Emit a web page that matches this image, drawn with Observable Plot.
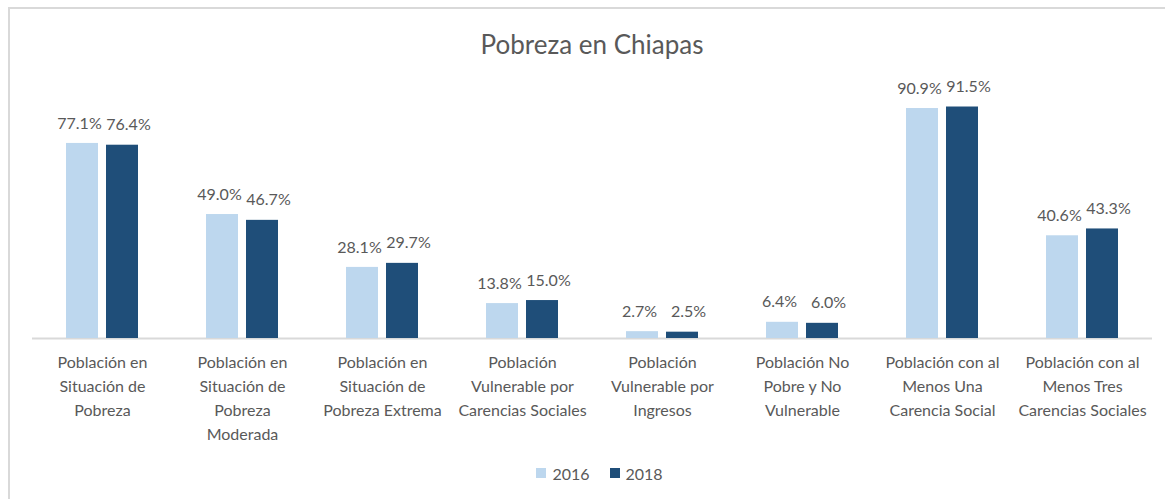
<!DOCTYPE html>
<html>
<head>
<meta charset="utf-8">
<script src="https://cdn.jsdelivr.net/npm/d3@7"></script>
<script src="https://cdn.jsdelivr.net/npm/@observablehq/plot@0.6"></script>
<style>
  html, body { margin: 0; padding: 0; background: #fff; }
  body { width: 1165px; height: 499px; position: relative; overflow: hidden; font-family: Lato, "Open Sans", sans-serif; color: #595959; }
  #frame { position: absolute; left: 8px; top: 7px; width: 1200px; height: 540px; border-left: 2px solid #d9d9d9; border-top: 2px solid #d9d9d9; }
  #title { position: absolute; left: 0; width: 1184px; top: 28px; text-align: center; font-size: 26px; color: #595959; }
  #chart { position: absolute; left: 0; top: 80px; }
  #legend { position: absolute; left: 0; width: 1199px; top: 462px; text-align: center; font-size: 16px; color: #595959; }
  #legend span.item { display: inline-flex; align-items: center; margin: 0 10px; }
  #legend span.sw { display: inline-block; width: 10px; height: 10px; margin-right: 6px; }
</style>
</head>
<body>
<div id="frame"></div>
<div id="title">Pobreza en Chiapas</div>
<div id="chart"></div>
<div id="legend"></div>
<script>
const categories = [
  "Población en Situación de Pobreza",
  "Población en Situación de Pobreza Moderada",
  "Población en Situación de Pobreza Extrema",
  "Población Vulnerable por Carencias Sociales",
  "Población Vulnerable por Ingresos",
  "Población No Pobre y No Vulnerable",
  "Población con al Menos Una Carencia Social",
  "Población con al Menos Tres Carencias Sociales"
];
const tickLabels = [
  "Población en\nSituación de\nPobreza",
  "Población en\nSituación de\nPobreza\nModerada",
  "Población en\nSituación de\nPobreza Extrema",
  "Población\nVulnerable por\nCarencias Sociales",
  "Población\nVulnerable por\nIngresos",
  "Población No\nPobre y No\nVulnerable",
  "Población con al\nMenos Una\nCarencia Social",
  "Población con al\nMenos Tres\nCarencias Sociales"
];
const years = ["2016", "2018"];
const values2016 = [77.1, 49.0, 28.1, 13.8, 2.7, 6.4, 90.9, 40.6];
const values2018 = [76.4, 46.7, 29.7, 15.0, 2.5, 6.0, 91.5, 43.3];
const colors = ["#BDD7EE", "#1F4E79"];

const data = [];
categories.forEach((c, i) => {
  data.push({category: c, year: years[0], value: values2016[i]});
  data.push({category: c, year: years[1], value: values2018[i]});
});
const labelData = categories.map((c, i) => ({category: c, label: tickLabels[i]}));
const fmt = d => d.value.toFixed(1) + "%";

const chart = Plot.plot({
  width: 1165,
  height: 380,
  marginLeft: 32,
  marginRight: 13,
  marginTop: 5,
  marginBottom: 122,
  style: {fontFamily: "Lato, 'Open Sans', sans-serif", fontSize: "16px", color: "#595959", background: "transparent", overflow: "visible"},
  fx: {domain: categories, paddingInner: 0.486, paddingOuter: 0.243, axis: null, label: null},
  x: {domain: years, paddingInner: 0.2, paddingOuter: 0, axis: null, label: null},
  y: {domain: [0, 100], axis: null, label: null},
  color: {domain: years, range: colors},
  marks: [
    Plot.ruleY([0], {stroke: "#d9d9d9", strokeWidth: 2, insetLeft: -34, insetRight: -34}),
    Plot.barY(data, {fx: "category", x: "year", y: "value", fill: "year", inset: 0}),
    Plot.text(data.filter(d => d.year === years[0]), {fx: "category", x: "year", y: "value", text: fmt, dy: -20, dx: -3, fill: "#595959", fontSize: 16}),
    Plot.text(data.filter(d => d.year === years[1]), {fx: "category", x: "year", y: "value", text: fmt, dy: -20, dx: 6, fill: "#595959", fontSize: 16}),
    Plot.text(labelData, {fx: "category", text: "label", frameAnchor: "bottom", lineAnchor: "top", dy: 12, lineHeight: 1.5, fill: "#595959", fontSize: 16})
  ]
});
document.getElementById("chart").appendChild(chart);

const legend = document.getElementById("legend");
years.forEach((y, i) => {
  const item = document.createElement("span");
  item.className = "item";
  const sw = document.createElement("span");
  sw.className = "sw";
  sw.style.background = colors[i];
  item.appendChild(sw);
  item.appendChild(document.createTextNode(y));
  legend.appendChild(item);
});
</script>
</body>
</html>
